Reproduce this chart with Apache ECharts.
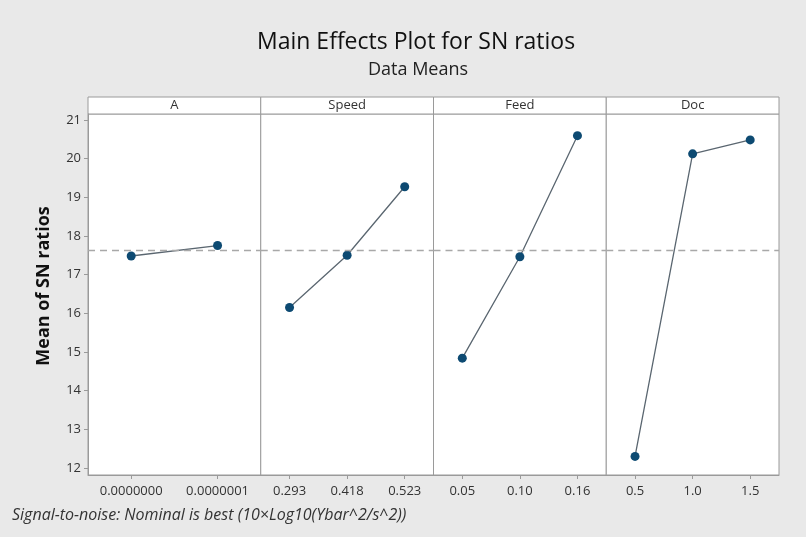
<!DOCTYPE html>
<html>
<head>
<meta charset="utf-8">
<script src="https://cdn.jsdelivr.net/npm/echarts@6/dist/echarts.min.js"></script>
<style>
html,body{margin:0;padding:0;background:#e9e9e9;}
#chart{width:806px;height:537px;}
</style>
</head>
<body>
<div id="chart"></div>
<script>
const panelNames = ["A", "Speed", "Feed", "Doc"];
const levelsA = ["0.0000000", "0.0000001"];
const levelsSpeed = ["0.293", "0.418", "0.523"];
const levelsFeed = ["0.05", "0.10", "0.16"];
const levelsDoc = ["0.5", "1.0", "1.5"];
const snA = [17.48, 17.75];
const snSpeed = [16.15, 17.50, 19.27];
const snFeed = [14.84, 17.46, 20.59];
const snDoc = [12.30, 20.12, 20.48];
const grandMean = 17.64;
const yTicks = [12, 13, 14, 15, 16, 17, 18, 19, 20, 21];
const yMin = 11.82, yMax = 21.15;

const levels = [levelsA, levelsSpeed, levelsFeed, levelsDoc];
const values = [snA, snSpeed, snFeed, snDoc];

const chart = echarts.init(document.getElementById('chart'));
const L = 88, R = 779, T = 114, B = 475;
const W = (R - L) / 4;
const grids = [], xAxes = [], yAxes = [], series = [], graphics = [];
const font = '"Open Sans", "Noto Sans", sans-serif';

for (let i = 0; i < 4; i++) {
  grids.push({left: L + i * W, top: T, width: W, height: B - T, show: true,
    borderColor: '#9a9a9a', borderWidth: 1, backgroundColor: '#ffffff'});
  xAxes.push({type: 'category', gridIndex: i, data: levels[i], boundaryGap: true,
    axisLine: {show: true, lineStyle: {color: '#9a9a9a'}},
    axisTick: {show: true, alignWithLabel: true, length: 4, lineStyle: {color: '#9a9a9a'}},
    axisLabel: {color: '#333', fontSize: 13, margin: 10, fontFamily: font}});
  yAxes.push({type: 'value', gridIndex: i, min: yMin, max: yMax,
    splitLine: {show: false},
    axisLine: {show: i === 0, lineStyle: {color: '#9a9a9a'}},
    axisTick: {show: i === 0, length: 4, customValues: yTicks, lineStyle: {color: '#9a9a9a'}},
    axisLabel: {show: i === 0, customValues: yTicks, color: '#333', fontSize: 13, margin: 7, fontFamily: font}});
  series.push({type: 'line', xAxisIndex: i, yAxisIndex: i, data: values[i],
    symbol: 'circle', symbolSize: 9,
    itemStyle: {color: '#0d4a72'},
    lineStyle: {color: '#5a6670', width: 1.3},
    markLine: {silent: true, symbol: 'none', label: {show: false},
      lineStyle: {color: '#a8a8a8', type: [7, 5], width: 1.3},
      data: [{yAxis: grandMean}]},
    z: 3});
  graphics.push({type: 'rect', shape: {x: L + i * W, y: 97, width: W, height: T - 97},
    style: {fill: '#ffffff', stroke: '#9a9a9a', lineWidth: 1}});
  graphics.push({type: 'text', x: L + i * W + W / 2, y: 105.5,
    style: {text: panelNames[i], fill: '#333', fontSize: 13, fontFamily: font,
      textAlign: 'center', textVerticalAlign: 'middle'}});
}

graphics.push({type: 'text', x: 44, y: 286, rotation: Math.PI / 2,
  style: {text: 'Mean of SN ratios', fill: '#111', fontSize: 18, fontWeight: 'bold',
    fontFamily: font, textAlign: 'center', textVerticalAlign: 'middle'}});

graphics.push({type: 'text', left: 12, top: 507,
  style: {text: 'Signal-to-noise: Nominal is best (10×Log10(Ybar^2/s^2))',
    fill: '#333', fontSize: 16, fontStyle: 'italic', fontFamily: font}});

chart.setOption({
  backgroundColor: '#e9e9e9',
  animation: false,
  title: [
    {text: 'Main Effects Plot for SN ratios', left: 252, top: 26,
      textStyle: {fontSize: 23, fontWeight: 'normal', color: '#111', fontFamily: font}},
    {text: 'Data Means', left: 363, top: 56,
      textStyle: {fontSize: 18, fontWeight: 'normal', color: '#222', fontFamily: font}}
  ],
  grid: grids, xAxis: xAxes, yAxis: yAxes, series: series, graphic: graphics
});
</script>
</body>
</html>
